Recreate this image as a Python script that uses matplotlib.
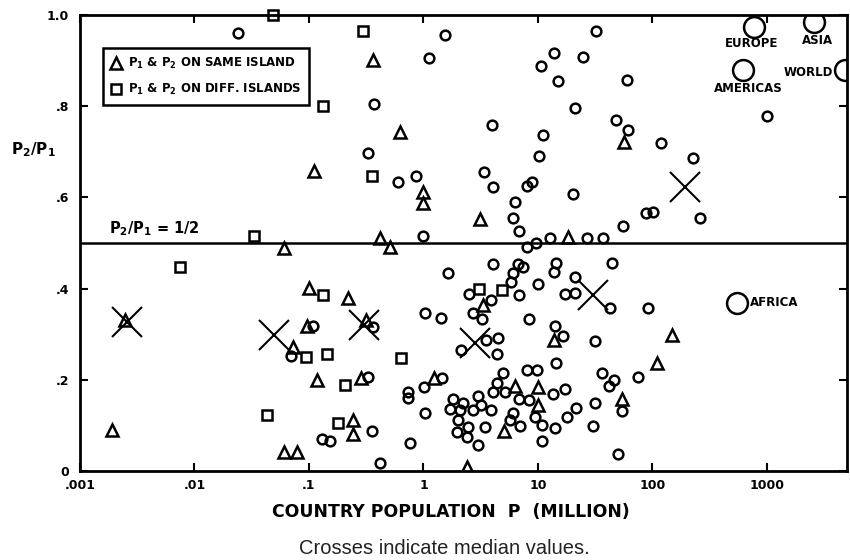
import matplotlib
matplotlib.use('Agg')
import matplotlib.pyplot as plt
from matplotlib.lines import Line2D
from matplotlib.ticker import FixedLocator, NullLocator

plt.rcParams['font.family'] = ['DejaVu Sans']
plt.rcParams['mathtext.default'] = 'regular'

# open circles: individual countries
circle_x = [0.024, 1.54, 1.12, 13.8, 10.6, 15, 24.7, 32, 60, 21,
            0.37, 3.96, 11.1, 10.2, 0.33, 0.6, 0.86, 3.37, 4.05, 6.3,
            6.05, 6.8, 8.0, 8.9, 20.2, 1.0, 9.6, 8.0, 12.7, 48,
            61, 119, 226, 88, 101, 260, 55, 27, 37, 1000,
            44, 21, 17.2, 21, 42.6, 91, 16.5, 31.5, 75, 36,
            46, 42, 17.2, 54, 31.5, 21.5, 17.9, 30, 50, 4.05,
            6.7, 7.4, 6.05, 5.8, 1.64, 14.4, 13.8, 10, 2.5, 6.8,
            3.9, 2.7, 3.25, 8.3, 1.03, 1.42, 0.36, 0.108, 0.07, 0.33,
            0.73, 0.73, 1.01, 1.45, 4.95, 8.0, 9.8, 14.4, 4.4, 4.05,
            5.2, 6.8, 8.3, 13.5, 9.4, 10.8, 14, 10.8, 6.05, 5.7,
            7.0, 3.0, 3.2, 1.81, 2.2, 1.7, 2.08, 2.7, 3.9, 2.0,
            2.45, 1.96, 2.4, 3.44, 3.0, 1.03, 0.76, 0.42, 0.355, 0.13,
            0.152, 14, 2.13, 3.5, 4.5, 4.4]
circle_y = [0.960, 0.956, 0.905, 0.916, 0.888, 0.855, 0.908, 0.965, 0.857, 0.796,
            0.804, 0.758, 0.736, 0.690, 0.697, 0.635, 0.646, 0.655, 0.624, 0.591,
            0.554, 0.527, 0.626, 0.635, 0.607, 0.516, 0.501, 0.492, 0.510, 0.769,
            0.749, 0.719, 0.686, 0.565, 0.569, 0.556, 0.538, 0.512, 0.510, 0.778,
            0.457, 0.426, 0.389, 0.391, 0.358, 0.358, 0.295, 0.286, 0.207, 0.215,
            0.200, 0.187, 0.180, 0.132, 0.149, 0.138, 0.119, 0.099, 0.037, 0.455,
            0.455, 0.448, 0.435, 0.415, 0.435, 0.457, 0.437, 0.411, 0.389, 0.385,
            0.376, 0.347, 0.334, 0.334, 0.347, 0.336, 0.316, 0.319, 0.253, 0.207,
            0.174, 0.160, 0.185, 0.204, 0.215, 0.222, 0.222, 0.237, 0.193, 0.174,
            0.174, 0.158, 0.156, 0.169, 0.119, 0.101, 0.095, 0.066, 0.127, 0.112,
            0.099, 0.165, 0.145, 0.158, 0.149, 0.136, 0.134, 0.134, 0.134, 0.112,
            0.097, 0.086, 0.075, 0.097, 0.057, 0.127, 0.062, 0.018, 0.088, 0.070,
            0.066, 0.319, 0.266, 0.288, 0.292, 0.257]

# triangles: P1 & P2 on same island
tri_x = [0.06, 0.51, 0.42, 18.3, 0.36, 0.62, 0.11, 0.99, 0.99, 3.1,
         56, 0.0025, 0.0019, 0.06, 0.078, 0.072, 0.1, 0.22, 0.315, 0.096,
         0.117, 0.284, 0.242, 0.242, 1.24, 3.3, 13.8, 6.3, 10, 10,
         5.05, 2.4, 148, 110, 54]
tri_y = [0.490, 0.492, 0.510, 0.514, 0.901, 0.743, 0.659, 0.611, 0.587, 0.552,
         0.721, 0.332, 0.090, 0.042, 0.042, 0.273, 0.402, 0.380, 0.332, 0.319,
         0.200, 0.204, 0.112, 0.081, 0.204, 0.363, 0.288, 0.187, 0.185, 0.145,
         0.088, 0.009, 0.299, 0.237, 0.158]

# squares: P1 & P2 on different islands
sq_x = [0.049, 0.296, 0.132, 0.355, 0.033, 0.0075, 0.132, 0.094, 0.144, 0.635,
        0.206, 0.18, 0.043, 3.05, 4.85]
sq_y = [1.0, 0.965, 0.800, 0.646, 0.516, 0.448, 0.385, 0.251, 0.257, 0.248,
        0.189, 0.105, 0.123, 0.400, 0.398]

# crosses: medians
med_x = [0.0026, 0.05, 0.3, 2.8, 30, 192]
med_y = [0.327, 0.299, 0.321, 0.281, 0.387, 0.624]

# continents and world
region_names = ['EUROPE', 'ASIA', 'WORLD', 'AMERICAS', 'AFRICA']
region_x = [770, 2570, 4800, 617, 547]
region_y = [0.974, 0.985, 0.879, 0.879, 0.369]
label_offsets = [(-2, -17), (4, -19), (-12, -2), (5, -18), (13, 0)]
label_align = ['center', 'center', 'right', 'center', 'left']

xticks = [1e-3, 1e-2, 1e-1, 1, 10, 100, 1000]
xtick_labels = ['.001', '.01', '.1', '1', '10', '100', '1000']
yticks = [0, 0.2, 0.4, 0.6, 0.8, 1.0]
ytick_labels = ['0', '.2', '.4', '.6', '.8', '1.0']

fig = plt.figure(figsize=(8.5, 5.6), dpi=100)
ax = fig.add_axes([0.094, 0.159, 0.9025, 0.814])

mk = dict(linestyle='none', markerfacecolor='none', markeredgecolor='black',
          markeredgewidth=1.8)
ax.plot(circle_x, circle_y, marker='o', markersize=7, **mk)
ax.plot(tri_x, tri_y, marker='^', markersize=8, **mk)
ax.plot(sq_x, sq_y, marker='s', markersize=7, clip_on=False, **mk)
ax.plot(med_x, med_y, linestyle='none', marker='x', markersize=22,
        markeredgecolor='black', markeredgewidth=1.5)
ax.plot(region_x, region_y, marker='o', markersize=15, **mk)

for name, x, y, off, ha in zip(region_names, region_x, region_y,
                               label_offsets, label_align):
    ax.annotate(name, (x, y), xytext=off, textcoords='offset pixels',
                ha=ha, va='center', fontsize=8.5, fontweight='bold')

ax.axhline(0.5, color='black', linewidth=1.8)
ax.text(0.0018, 0.532, r'P$_2$/P$_1$ = 1/2', fontsize=10.5, fontweight='bold',
        ha='left', va='center')

ax.set_xscale('log')
ax.set_xlim(1e-3, 5000)
ax.set_ylim(0, 1.0)
ax.xaxis.set_major_locator(FixedLocator(xticks))
ax.xaxis.set_minor_locator(NullLocator())
ax.set_xticklabels(xtick_labels)
ax.set_yticks(yticks)
ax.set_yticklabels(ytick_labels)
ax.tick_params(direction='in', top=True, right=True, length=6, width=1.5,
               labelsize=9)
ax.tick_params(axis='x', pad=6)
ax.tick_params(axis='y', pad=8)
for lab in ax.get_xticklabels() + ax.get_yticklabels():
    lab.set_fontweight('bold')
for s in ax.spines.values():
    s.set_linewidth(2)

ax.set_xlabel('COUNTRY POPULATION  P  (MILLION)', fontsize=12.4,
              fontweight='bold', labelpad=8, x=0.484)
ax.text(-0.061, 0.705, r'P$_2$/P$_1$', transform=ax.transAxes, fontsize=11,
        fontweight='bold', ha='center', va='center')

handles = [Line2D([], [], marker='^', markersize=8, **mk),
           Line2D([], [], marker='s', markersize=7, **mk)]
leg = ax.legend(handles, [r'P$_1$ & P$_2$ ON SAME ISLAND',
                          r'P$_1$ & P$_2$ ON DIFF. ISLANDS'],
                loc='upper left', bbox_to_anchor=(0.030, 0.928),
                fancybox=False, edgecolor='black', framealpha=1,
                prop={'size': 8.5, 'weight': 'bold'}, handlelength=0.9,
                handletextpad=0.5, borderpad=0.7, labelspacing=0.9,
                borderaxespad=0)
leg.get_frame().set_linewidth(1.8)

fig.text(0.523, 0.021, 'Crosses indicate median values.',
         family=['Liberation Sans', 'DejaVu Sans'],
         fontsize=14.5, ha='center', va='center', color='#222222')

fig.savefig('out.png', dpi=100)
